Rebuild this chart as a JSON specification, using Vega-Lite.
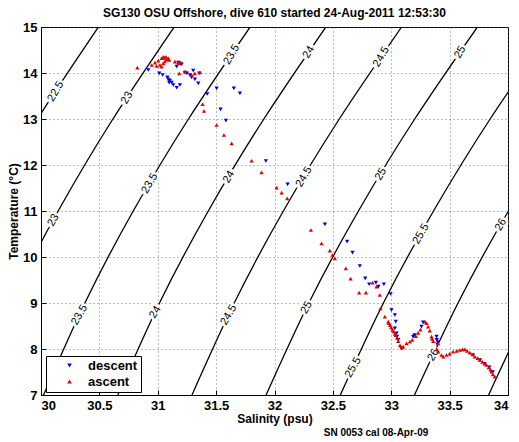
{
  "$schema": "https://vega.github.io/schema/vega-lite/v6.json",
  "width": 467,
  "height": 368,
  "autosize": {"type": "none"},
  "padding": {"left": 41, "top": 27, "right": 11, "bottom": 47},
  "title": {"text": "SG130 OSU Offshore, dive 610 started 24-Aug-2011 12:53:30", "font": "Liberation Sans", "fontSize": 12, "fontWeight": "bold", "color": "black", "offset": 1},
  "config": {
    "font": "Liberation Sans",
    "view": {"stroke": "black", "strokeWidth": 1},
    "axis": {
      "labelFont": "Liberation Sans", "labelFontSize": 13, "labelFontWeight": "bold", "labelColor": "black",
      "titleFont": "Liberation Sans", "titleFontSize": 12, "titleFontWeight": "bold", "titleColor": "black",
      "domainColor": "black", "tickColor": "black", "tickSize": -5,
      "gridColor": "#555555", "gridDash": [1, 3], "gridWidth": 1, "gridOpacity": 0.8
    },
    "legend": {
      "orient": "none", "legendX": 5, "legendY": 329,
      "strokeColor": "black", "fillColor": "white", "padding": 3, "rowPadding": 2,
      "labelFont": "Liberation Sans", "labelFontSize": 13, "labelFontWeight": "bold", "labelColor": "black",
      "symbolSize": 22, "symbolOffset": 14, "labelOffset": 12, "symbolStrokeWidth": 0
    }
  },
  "datasets": {
    "isopycnals": [
      {"sigma": 22.5, "S": 28.75, "T": 7}, {"sigma": 22.5, "S": 29.098, "T": 9}, {"sigma": 22.5, "S": 29.505, "T": 11}, {"sigma": 22.5, "S": 29.97, "T": 13}, {"sigma": 22.5, "S": 30.492, "T": 15},
      {"sigma": 23, "S": 29.386, "T": 7}, {"sigma": 23, "S": 29.736, "T": 9}, {"sigma": 23, "S": 30.147, "T": 11}, {"sigma": 23, "S": 30.616, "T": 13}, {"sigma": 23, "S": 31.141, "T": 15},
      {"sigma": 23.5, "S": 30.022, "T": 7}, {"sigma": 23.5, "S": 30.376, "T": 9}, {"sigma": 23.5, "S": 30.79, "T": 11}, {"sigma": 23.5, "S": 31.263, "T": 13}, {"sigma": 23.5, "S": 31.791, "T": 15},
      {"sigma": 24, "S": 30.658, "T": 7}, {"sigma": 24, "S": 31.015, "T": 9}, {"sigma": 24, "S": 31.433, "T": 11}, {"sigma": 24, "S": 31.909, "T": 13}, {"sigma": 24, "S": 32.44, "T": 15},
      {"sigma": 24.5, "S": 31.293, "T": 7}, {"sigma": 24.5, "S": 31.655, "T": 9}, {"sigma": 24.5, "S": 32.076, "T": 11}, {"sigma": 24.5, "S": 32.555, "T": 13}, {"sigma": 24.5, "S": 33.089, "T": 15},
      {"sigma": 25, "S": 31.928, "T": 7}, {"sigma": 25, "S": 32.294, "T": 9}, {"sigma": 25, "S": 32.719, "T": 11}, {"sigma": 25, "S": 33.201, "T": 13}, {"sigma": 25, "S": 33.738, "T": 15},
      {"sigma": 25.5, "S": 32.564, "T": 7}, {"sigma": 25.5, "S": 32.933, "T": 9}, {"sigma": 25.5, "S": 33.362, "T": 11}, {"sigma": 25.5, "S": 33.847, "T": 13}, {"sigma": 25.5, "S": 34.39, "T": 15},
      {"sigma": 26, "S": 33.199, "T": 7}, {"sigma": 26, "S": 33.572, "T": 9}, {"sigma": 26, "S": 34.004, "T": 11}, {"sigma": 26, "S": 34.494, "T": 13},
      {"sigma": 26.5, "S": 33.834, "T": 7}, {"sigma": 26.5, "S": 34.21, "T": 9}, {"sigma": 26.5, "S": 34.647, "T": 11}
    ],
    "labels": [
      {"lab": "22.5", "S": 30.127, "T": 13.6},
      {"lab": "23", "S": 30.737, "T": 13.46}, {"lab": "23", "S": 30.106, "T": 10.8},
      {"lab": "23.5", "S": 31.633, "T": 14.4}, {"lab": "23.5", "S": 30.932, "T": 11.6}, {"lab": "23.5", "S": 30.33, "T": 8.74},
      {"lab": "24", "S": 32.294, "T": 14.45}, {"lab": "24", "S": 31.609, "T": 11.74}, {"lab": "24", "S": 30.979, "T": 8.8},
      {"lab": "24.5", "S": 32.915, "T": 14.35}, {"lab": "24.5", "S": 32.253, "T": 11.74}, {"lab": "24.5", "S": 31.608, "T": 8.74},
      {"lab": "25", "S": 33.59, "T": 14.45}, {"lab": "25", "S": 32.912, "T": 11.8}, {"lab": "25", "S": 32.276, "T": 8.9},
      {"lab": "25.5", "S": 33.255, "T": 10.5}, {"lab": "25.5", "S": 32.675, "T": 7.6},
      {"lab": "26", "S": 33.939, "T": 10.7}, {"lab": "26", "S": 33.361, "T": 7.87}
    ],
    "dive": [
      {"cast": "descent", "S": 30.919, "T": 14.065}, {"cast": "descent", "S": 31.013, "T": 13.993}, {"cast": "descent", "S": 31.042, "T": 13.957},
      {"cast": "descent", "S": 31.082, "T": 13.906}, {"cast": "descent", "S": 31.09, "T": 13.863}, {"cast": "descent", "S": 31.098, "T": 13.789},
      {"cast": "descent", "S": 31.104, "T": 13.833}, {"cast": "descent", "S": 31.119, "T": 13.789}, {"cast": "descent", "S": 31.133, "T": 13.739},
      {"cast": "descent", "S": 31.162, "T": 13.68}, {"cast": "descent", "S": 31.19, "T": 13.739}, {"cast": "descent", "S": 31.162, "T": 14.137},
      {"cast": "descent", "S": 31.176, "T": 14.224}, {"cast": "descent", "S": 31.19, "T": 14.21}, {"cast": "descent", "S": 31.205, "T": 14.19},
      {"cast": "descent", "S": 31.233, "T": 14.007}, {"cast": "descent", "S": 31.25, "T": 13.99}, {"cast": "descent", "S": 31.276, "T": 13.957},
      {"cast": "descent", "S": 31.304, "T": 14.05}, {"cast": "descent", "S": 31.29, "T": 13.906}, {"cast": "descent", "S": 31.318, "T": 13.863},
      {"cast": "descent", "S": 31.347, "T": 13.776}, {"cast": "descent", "S": 31.355, "T": 13.993}, {"cast": "descent", "S": 31.424, "T": 13.543},
      {"cast": "descent", "S": 31.504, "T": 13.667}, {"cast": "descent", "S": 31.652, "T": 13.667}, {"cast": "descent", "S": 31.704, "T": 13.558},
      {"cast": "descent", "S": 31.538, "T": 13.211}, {"cast": "descent", "S": 31.584, "T": 12.963},
      {"cast": "descent", "S": 31.926, "T": 12.087}, {"cast": "descent", "S": 32.112, "T": 11.58}, {"cast": "descent", "S": 32.432, "T": 10.711},
      {"cast": "descent", "S": 32.622, "T": 10.333}, {"cast": "descent", "S": 32.668, "T": 10.094}, {"cast": "descent", "S": 32.731, "T": 9.804},
      {"cast": "descent", "S": 32.777, "T": 9.537}, {"cast": "descent", "S": 32.811, "T": 9.407}, {"cast": "descent", "S": 32.868, "T": 9.442},
      {"cast": "descent", "S": 32.89, "T": 9.355}, {"cast": "descent", "S": 32.937, "T": 9.407}, {"cast": "descent", "S": 32.994, "T": 9.196},
      {"cast": "descent", "S": 33.002, "T": 8.848}, {"cast": "descent", "S": 33.031, "T": 8.739}, {"cast": "descent", "S": 33.039, "T": 8.594},
      {"cast": "descent", "S": 33.031, "T": 8.45}, {"cast": "descent", "S": 33.045, "T": 8.341}, {"cast": "descent", "S": 33.05, "T": 8.268},
      {"cast": "descent", "S": 33.06, "T": 8.2}, {"cast": "descent", "S": 33.088, "T": 8.015}, {"cast": "descent", "S": 33.187, "T": 8.268},
      {"cast": "descent", "S": 33.2, "T": 8.3}, {"cast": "descent", "S": 33.259, "T": 8.485}, {"cast": "descent", "S": 33.273, "T": 8.58},
      {"cast": "descent", "S": 33.388, "T": 8.268}, {"cast": "descent", "S": 33.39, "T": 8.2}, {"cast": "descent", "S": 33.395, "T": 8.1},
      {"cast": "descent", "S": 33.4, "T": 8.15}, {"cast": "descent", "S": 33.7, "T": 7.87}, {"cast": "descent", "S": 33.76, "T": 7.76},
      {"cast": "descent", "S": 33.8, "T": 7.68}, {"cast": "descent", "S": 33.84, "T": 7.6}, {"cast": "descent", "S": 33.87, "T": 7.5},
      {"cast": "ascent", "S": 30.825, "T": 14.115}, {"cast": "ascent", "S": 30.948, "T": 14.174}, {"cast": "ascent", "S": 30.976, "T": 14.224},
      {"cast": "ascent", "S": 31.004, "T": 14.268}, {"cast": "ascent", "S": 31.033, "T": 14.32}, {"cast": "ascent", "S": 31.047, "T": 14.354},
      {"cast": "ascent", "S": 31.058, "T": 14.33}, {"cast": "ascent", "S": 31.07, "T": 14.354}, {"cast": "ascent", "S": 31.09, "T": 14.32},
      {"cast": "ascent", "S": 31.098, "T": 14.283}, {"cast": "ascent", "S": 31.019, "T": 14.174}, {"cast": "ascent", "S": 31.047, "T": 14.21},
      {"cast": "ascent", "S": 30.99, "T": 14.152}, {"cast": "ascent", "S": 31.033, "T": 14.137}, {"cast": "ascent", "S": 31.06, "T": 14.25},
      {"cast": "ascent", "S": 31.075, "T": 14.29}, {"cast": "ascent", "S": 31.147, "T": 14.246}, {"cast": "ascent", "S": 31.176, "T": 14.224},
      {"cast": "ascent", "S": 31.19, "T": 14.21}, {"cast": "ascent", "S": 31.184, "T": 13.993}, {"cast": "ascent", "S": 31.233, "T": 14.03},
      {"cast": "ascent", "S": 31.318, "T": 13.993}, {"cast": "ascent", "S": 31.361, "T": 14.015}, {"cast": "ascent", "S": 31.29, "T": 13.957},
      {"cast": "ascent", "S": 31.384, "T": 13.32}, {"cast": "ascent", "S": 31.396, "T": 13.174}, {"cast": "ascent", "S": 31.504, "T": 12.87},
      {"cast": "ascent", "S": 31.567, "T": 12.652}, {"cast": "ascent", "S": 31.633, "T": 12.472}, {"cast": "ascent", "S": 31.804, "T": 12.093},
      {"cast": "ascent", "S": 31.889, "T": 11.841}, {"cast": "ascent", "S": 32.018, "T": 11.507}, {"cast": "ascent", "S": 32.061, "T": 11.398},
      {"cast": "ascent", "S": 32.109, "T": 11.276}, {"cast": "ascent", "S": 32.312, "T": 10.587}, {"cast": "ascent", "S": 32.403, "T": 10.297},
      {"cast": "ascent", "S": 32.474, "T": 10.137}, {"cast": "ascent", "S": 32.497, "T": 10.043}, {"cast": "ascent", "S": 32.517, "T": 9.971},
      {"cast": "ascent", "S": 32.611, "T": 9.754}, {"cast": "ascent", "S": 32.652, "T": 9.529}, {"cast": "ascent", "S": 32.84, "T": 9.442},
      {"cast": "ascent", "S": 32.874, "T": 9.355}, {"cast": "ascent", "S": 32.725, "T": 9.224}, {"cast": "ascent", "S": 32.783, "T": 9.224},
      {"cast": "ascent", "S": 32.902, "T": 9.174}, {"cast": "ascent", "S": 32.908, "T": 8.885}, {"cast": "ascent", "S": 32.945, "T": 8.703},
      {"cast": "ascent", "S": 32.974, "T": 8.594}, {"cast": "ascent", "S": 32.98, "T": 8.56}, {"cast": "ascent", "S": 32.99, "T": 8.52},
      {"cast": "ascent", "S": 33.0, "T": 8.47}, {"cast": "ascent", "S": 33.01, "T": 8.42}, {"cast": "ascent", "S": 33.02, "T": 8.38},
      {"cast": "ascent", "S": 33.03, "T": 8.33}, {"cast": "ascent", "S": 33.04, "T": 8.3}, {"cast": "ascent", "S": 33.05, "T": 8.24},
      {"cast": "ascent", "S": 33.06, "T": 8.17}, {"cast": "ascent", "S": 33.075, "T": 8.08}, {"cast": "ascent", "S": 33.09, "T": 8.03},
      {"cast": "ascent", "S": 33.102, "T": 8.05}, {"cast": "ascent", "S": 33.131, "T": 8.124}, {"cast": "ascent", "S": 33.159, "T": 8.159},
      {"cast": "ascent", "S": 33.18, "T": 8.2}, {"cast": "ascent", "S": 33.21, "T": 8.28}, {"cast": "ascent", "S": 33.23, "T": 8.35},
      {"cast": "ascent", "S": 33.25, "T": 8.42}, {"cast": "ascent", "S": 33.288, "T": 8.594}, {"cast": "ascent", "S": 33.302, "T": 8.559},
      {"cast": "ascent", "S": 33.316, "T": 8.485}, {"cast": "ascent", "S": 33.33, "T": 8.4}, {"cast": "ascent", "S": 33.345, "T": 8.268},
      {"cast": "ascent", "S": 33.35, "T": 8.22}, {"cast": "ascent", "S": 33.36, "T": 8.17}, {"cast": "ascent", "S": 33.402, "T": 8.124},
      {"cast": "ascent", "S": 33.39, "T": 8.0}, {"cast": "ascent", "S": 33.402, "T": 7.942}, {"cast": "ascent", "S": 33.43, "T": 7.87},
      {"cast": "ascent", "S": 33.445, "T": 7.833}, {"cast": "ascent", "S": 33.473, "T": 7.87}, {"cast": "ascent", "S": 33.5, "T": 7.9},
      {"cast": "ascent", "S": 33.53, "T": 7.942}, {"cast": "ascent", "S": 33.56, "T": 7.96}, {"cast": "ascent", "S": 33.587, "T": 7.978},
      {"cast": "ascent", "S": 33.61, "T": 7.99}, {"cast": "ascent", "S": 33.63, "T": 7.993}, {"cast": "ascent", "S": 33.65, "T": 7.96},
      {"cast": "ascent", "S": 33.673, "T": 7.92}, {"cast": "ascent", "S": 33.695, "T": 7.88}, {"cast": "ascent", "S": 33.716, "T": 7.833},
      {"cast": "ascent", "S": 33.74, "T": 7.8}, {"cast": "ascent", "S": 33.758, "T": 7.761}, {"cast": "ascent", "S": 33.78, "T": 7.72},
      {"cast": "ascent", "S": 33.8, "T": 7.68}, {"cast": "ascent", "S": 33.816, "T": 7.652}, {"cast": "ascent", "S": 33.835, "T": 7.6},
      {"cast": "ascent", "S": 33.85, "T": 7.55}, {"cast": "ascent", "S": 33.858, "T": 7.507}, {"cast": "ascent", "S": 33.87, "T": 7.45},
      {"cast": "ascent", "S": 33.887, "T": 7.398}
    ]
  },
  "layer": [
    {
      "data": {"name": "isopycnals"},
      "mark": {"type": "line", "color": "black", "strokeWidth": 1.3, "clip": true, "interpolate": "natural"},
      "encoding": {
        "x": {"field": "S", "type": "quantitative", "scale": {"domain": [30, 34], "nice": false, "zero": false},
              "axis": {"title": "Salinity (psu)", "values": [30, 30.5, 31, 31.5, 32, 32.5, 33, 33.5, 34], "format": "~g", "labelPadding": 9, "titleY": 18}},
        "y": {"field": "T", "type": "quantitative", "scale": {"domain": [7, 15], "nice": false, "zero": false},
              "axis": {"title": "Temperature (°C)", "values": [7, 8, 9, 10, 11, 12, 13, 14, 15], "format": "d", "labelPadding": 9, "titlePadding": 2}},
        "detail": {"field": "sigma", "type": "nominal"},
        "order": {"field": "T", "type": "quantitative"}
      }
    },
    {
      "data": {"name": "labels"},
      "mark": {"type": "text", "angle": -60, "fontSize": 11, "font": "Liberation Sans", "stroke": "white", "strokeWidth": 5, "fill": "white"},
      "encoding": {
        "x": {"field": "S", "type": "quantitative"},
        "y": {"field": "T", "type": "quantitative"},
        "text": {"field": "lab"}
      }
    },
    {
      "data": {"name": "labels"},
      "mark": {"type": "text", "angle": -60, "fontSize": 11, "font": "Liberation Sans", "color": "black"},
      "encoding": {
        "x": {"field": "S", "type": "quantitative"},
        "y": {"field": "T", "type": "quantitative"},
        "text": {"field": "lab"}
      }
    },
    {
      "data": {"name": "dive"},
      "mark": {"type": "point", "filled": true, "size": 18, "opacity": 1},
      "encoding": {
        "x": {"field": "S", "type": "quantitative"},
        "y": {"field": "T", "type": "quantitative"},
        "color": {"field": "cast", "type": "nominal", "scale": {"domain": ["descent", "ascent"], "range": ["#0000e0", "#e00000"]}, "legend": {"title": null}},
        "shape": {"field": "cast", "type": "nominal", "scale": {"domain": ["descent", "ascent"], "range": ["triangle-down", "triangle-up"]}, "legend": {"title": null}}
      }
    },
    {
      "data": {"values": [{"note": "SN 0053 cal 08-Apr-09"}]},
      "mark": {"type": "text", "fontSize": 10, "fontWeight": "bold", "font": "Liberation Sans", "color": "black", "clip": false},
      "encoding": {
        "x": {"datum": 32.87},
        "y": {"datum": 6.17},
        "text": {"field": "note"}
      }
    }
  ]
}
